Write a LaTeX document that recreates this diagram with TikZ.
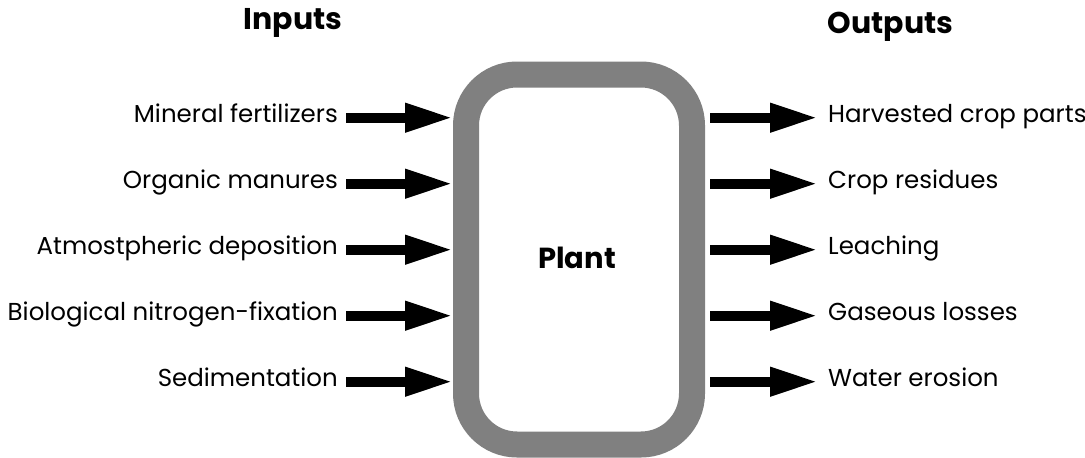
\documentclass[tikz,border=0pt]{standalone}
\usepackage{fontspec}
\setmainfont{Poppins}
\usetikzlibrary{arrows.meta}
\definecolor{boxgray}{HTML}{808080}
\tikzset{
  lbl/.style={font=\fontsize{24.5}{28}\selectfont, inner sep=0pt},
  head/.style={font=\fontsize{30}{34}\selectfont\bfseries, inner sep=0pt, anchor=base},
  arr/.style={line width=10pt, -{Triangle[length=48pt,width=27pt]}},
}
\begin{document}
\begin{tikzpicture}[x=1pt,y=-1pt]
\useasboundingbox (0,0) rectangle (1085,458);
\node[draw=boxgray, line width=26pt, rounded corners=51pt, minimum width=226pt, minimum height=370pt, inner sep=0pt] (box) at (579,259.5) {};
\node[font=\fontsize{29}{33}\selectfont\bfseries, inner sep=0pt, anchor=base] at (577,268.3) (plant) {Plant};
\node[head] at (293,29) (inputs) {Inputs};
\node[head] at (890.5,33) (outputs) {Outputs};
\foreach \i/\t/\y in {1/Mineral fertilizers/117.7, 2/Organic manures/183.7, 3/Atmostpheric deposition/249.7, 4/Biological nitrogen-fixation/315.7, 5/Sedimentation/381.7}{
  \coordinate (ai\i) at (346,\y);
  \node[lbl, anchor=base east] (li\i) at (338,\y+4.6) {\t};
  \draw[arr] (ai\i) -- (ai\i -| box.west);
}
\foreach \i/\t/\y in {1/Harvested crop parts/117.7, 2/Crop residues/183.7, 3/Leaching/249.7, 4/Gaseous losses/315.7, 5/Water erosion/381.7}{
  \coordinate (ao\i) at (818,\y);
  \node[lbl, anchor=base west] (lo\i) at (828,\y+4.6) {\t};
  \draw[arr] ([xshift=5pt]box.east |- ao\i) -- (ao\i);
}
\end{tikzpicture}
\end{document}
